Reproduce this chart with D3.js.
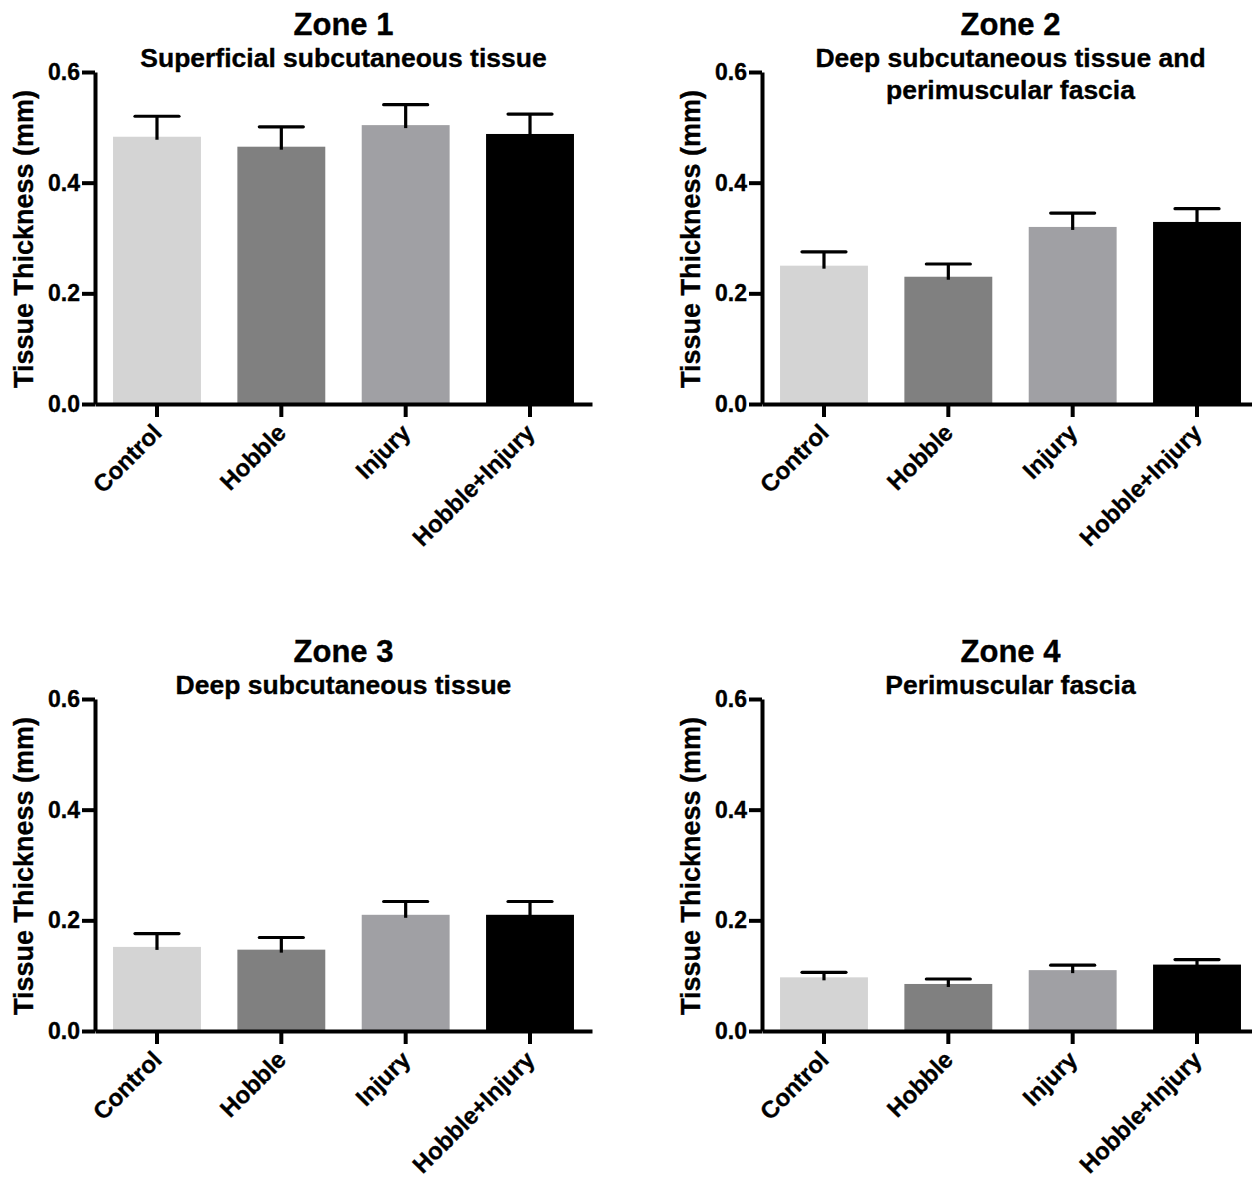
<!DOCTYPE html>
<html>
<head>
<meta charset="utf-8">
<script src="https://cdn.jsdelivr.net/npm/d3@7"></script>
<style>
  body { margin: 0; background: #fff; }
  svg { display: block; }
  svg text { font-family: "Liberation Sans", Arial, Helvetica, sans-serif; font-weight: bold; stroke: #000; stroke-width: 0.35px; }
</style>
</head>
<body>
<svg id="chart" width="1252" height="1179"></svg>
<script>
// groupes et couleurs
const categories = ["Control", "Hobble", "Injury", "Hobble+Injury"];
const barColors = ["#d4d4d4", "#808080", "#a0a0a4", "#000000"];

// titres des zones
const zoneTitles = ["Zone 1", "Zone 2", "Zone 3", "Zone 4"];
const zoneSubtitles = [
  ["Superficial subcutaneous tissue"],
  ["Deep subcutaneous tissue and", "perimuscular fascia"],
  ["Deep subcutaneous tissue"],
  ["Perimuscular fascia"]
];

// moyennes (mm) par zone
const zone1Mean = [0.483, 0.465, 0.504, 0.488];
const zone2Mean = [0.250, 0.230, 0.320, 0.329];
const zone3Mean = [0.152, 0.147, 0.210, 0.210];
const zone4Mean = [0.097, 0.085, 0.110, 0.120];

// erreur standard (mm) par zone
const zone1Sem = [0.037, 0.036, 0.037, 0.036];
const zone2Sem = [0.025, 0.023, 0.025, 0.024];
const zone3Sem = [0.024, 0.022, 0.024, 0.024];
const zone4Sem = [0.009, 0.009, 0.009, 0.009];

const yTicks = [0, 0.2, 0.4, 0.6];
const yLabel = "Tissue Thickness (mm)";

const means = [zone1Mean, zone2Mean, zone3Mean, zone4Mean];
const sems = [zone1Sem, zone2Sem, zone3Sem, zone4Sem];

const svg = d3.select("#chart");

// position de chaque panneau (axe y, bas, haut)
const panels = [
  { left: 95, bottom: 404, top: 72 },
  { left: 762, bottom: 404, top: 72 },
  { left: 95, bottom: 1031, top: 699 },
  { left: 762, bottom: 1031, top: 699 }
];
const plotWidth = 497;

panels.forEach((p, i) => {
  const g = svg.append("g");

  const x = d3.scaleBand()
    .domain(categories)
    .range([p.left, p.left + plotWidth])
    .paddingInner(0.293)
    .paddingOuter(0.145);

  const y = d3.scaleLinear().domain([0, 0.6]).range([p.bottom, p.top]);

  const data = categories.map((c, k) => ({ cat: c, mean: means[i][k], sem: sems[i][k], color: barColors[k] }));

  // barres
  g.selectAll("rect.bar")
    .data(data)
    .join("rect")
    .attr("class", "bar")
    .attr("x", d => x(d.cat))
    .attr("y", d => y(d.mean))
    .attr("width", x.bandwidth())
    .attr("height", d => y(0) - y(d.mean))
    .attr("fill", d => d.color);

  // barres d'erreur (au-dessus seulement)
  const cx = d => x(d.cat) + x.bandwidth() / 2;
  g.selectAll("line.err")
    .data(data)
    .join("line")
    .attr("class", "err")
    .attr("x1", cx).attr("x2", cx)
    .attr("y1", d => y(d.mean) + 3)
    .attr("y2", d => y(d.mean + d.sem))
    .attr("stroke", "#000")
    .attr("stroke-width", 3.2);

  g.selectAll("line.cap")
    .data(data)
    .join("line")
    .attr("class", "cap")
    .attr("x1", d => cx(d) - 22).attr("x2", d => cx(d) + 22)
    .attr("y1", d => y(d.mean + d.sem))
    .attr("y2", d => y(d.mean + d.sem))
    .attr("stroke", "#000")
    .attr("stroke-width", 3.2)
    .attr("stroke-linecap", "round");

  // axe x
  const xAxis = g.append("g")
    .attr("transform", `translate(0,${p.bottom})`)
    .call(d3.axisBottom(x).tickSize(13).tickSizeOuter(0));
  xAxis.attr("font-family", null);
  xAxis.select(".domain").attr("stroke-width", 4);
  xAxis.selectAll(".tick line").attr("stroke-width", 4);
  xAxis.selectAll(".tick text")
    .attr("font-size", 24)
    .attr("fill", "#000")
    .attr("text-anchor", "end")
    .attr("x", 0).attr("y", 0).attr("dy", "0.72em")
    .attr("transform", "translate(-6,18) rotate(-45)");

  // axe y
  const yAxis = g.append("g")
    .attr("transform", `translate(${p.left},0)`)
    .call(d3.axisLeft(y).tickValues(yTicks).tickFormat(d3.format(".1f")).tickSize(13).tickSizeOuter(0).tickPadding(2));
  yAxis.attr("font-family", null);
  yAxis.select(".domain").attr("stroke-width", 4);
  yAxis.selectAll(".tick line").attr("stroke-width", 4);
  yAxis.selectAll(".tick text").attr("font-size", 23).attr("fill", "#000");

  // libellé de l'axe y
  g.append("text")
    .attr("transform", `translate(${p.left - 62},${(p.top + p.bottom) / 2 + 1}) rotate(-90)`)
    .attr("text-anchor", "middle")
    .attr("font-size", 27)
    .text(yLabel);

  // titres
  const midX = p.left + plotWidth / 2;
  g.append("text")
    .attr("x", midX).attr("y", p.top - 37)
    .attr("text-anchor", "middle")
    .attr("font-size", 31)
    .text(zoneTitles[i]);

  zoneSubtitles[i].forEach((line, j) => {
    g.append("text")
      .attr("x", midX).attr("y", p.top - 5 + j * 32)
      .attr("text-anchor", "middle")
      .attr("font-size", 26.5)
      .text(line);
  });
});
</script>
</body>
</html>
